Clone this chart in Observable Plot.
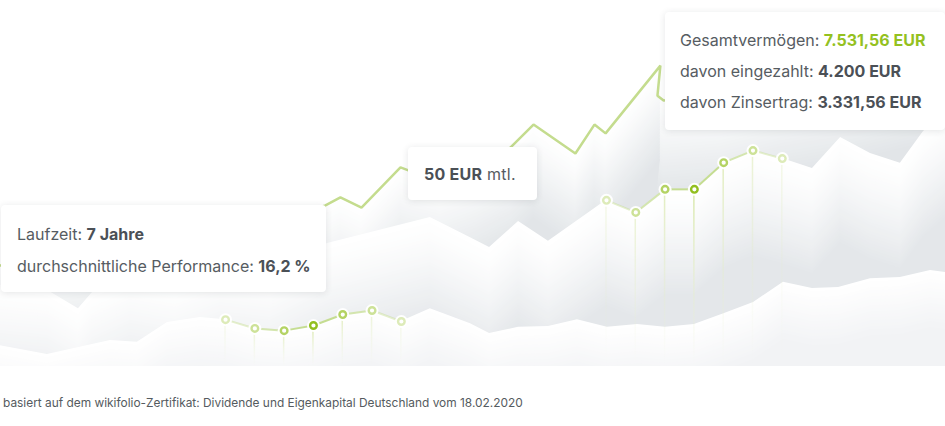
<!DOCTYPE html>
<html>
<head>
<meta charset="utf-8">
<script src="https://cdn.jsdelivr.net/npm/d3@7"></script>
<script src="https://cdn.jsdelivr.net/npm/@observablehq/plot@0.6"></script>
<style>
  html, body { margin: 0; padding: 0; background: #fff; }
  body { font-family: Inter, "Noto Sans", sans-serif; color: #565c62; }
  #wrap { position: relative; width: 945px; }
  #chart svg { display: block; overflow: visible; }
  .box { position: absolute; background: #fff; border-radius: 4px;
         box-shadow: 0 1px 7px rgba(40, 50, 60, 0.12); box-sizing: border-box;
         font-size: 16px; line-height: 31px; white-space: nowrap; }
  .box b { font-weight: 700; color: #4b5056; }
  .box b.green { color: #94c11f; }
  #caption { font-size: 11.9px; line-height: 16px; color: #555b60; margin: 15px 0 0 3px; }
</style>
</head>
<body>
<div id="wrap">
  <div id="chart"></div>
  <div class="box" id="box1" style="left:1px; top:205px; width:325px; height:87px; padding:13px 0 0 16px; line-height:32px;">
    <div>Laufzeit: <b>7 Jahre</b></div>
    <div>durchschnittliche Performance: <b>16,2 %</b></div>
  </div>
  <div class="box" id="box2" style="left:408px; top:147px; width:129px; height:53px; padding:11px 0 0 16px; line-height:32px; letter-spacing:0.25px;">
    <div><b>50 EUR</b> mtl.</div>
  </div>
  <div class="box" id="box3" style="left:665px; top:12px; width:280px; height:118px; padding:13px 0 0 15px;">
    <div>Gesamtvermögen: <b class="green">7.531,56 EUR</b></div>
    <div>davon eingezahlt: <b>4.200 EUR</b></div>
    <div>davon Zinsertrag: <b>3.331,56 EUR</b></div>
  </div>
  <div id="caption">basiert auf dem wikifolio-Zertifikat: Dividende und Eigenkapital Deutschland vom 18.02.2020</div>
</div>
<script>
// ---- data (x in steps, y as share of chart height) ----
const backT  = [-0.68, 2.73, 6.14, 9.22, 10.41, 10.92, 11.64, 12.97, 13.24, 14.33, 15.53, 16.72, 17.51, 18.94, 19.59, 19.97, 21.84, 21.74, 21.95, 23.89, 25.94, 27.99, 30.03, 31.57];
const backV  = [27.6, 33.1, 36.6, 41.3, 44.0, 46.2, 43.4, 54.4, 53.6, 51.4, 54.9, 59.8, 66.1, 58.2, 66.1, 63.7, 82.2, 74.0, 72.7, 74.0, 78.1, 80.9, 85.0, 87.7];

const midLeftT  = [-0.68, 0.92, 1.98, 2.46, 3.75, 5.29, 6.83, 8.53, 10.48, 13.99, 15.36, 16.01, 17.0, 18.02];
const midLeftV  = [22.1, 20.8, 15.8, 20.2, 24.9, 22.7, 27.3, 25.7, 33.6, 40.7, 35.2, 32.5, 39.6, 34.2];
const midRightT = [27.03, 27.99, 29.01, 30.03, 30.82, 31.57];
const midRightV = [54.1, 62.6, 58.2, 55.5, 64.2, 69.4];

const frontLeftT  = [-0.68, 0.92, 3.07, 3.99, 5.02, 6.14];
const frontLeftV  = [5.7, 3.3, 7.1, 6.6, 12.0, 13.4];
const frontRightT = [13.99, 15.36, 16.01, 17.0, 18.02, 19.01, 20.03, 21.06, 22.01, 23.0, 24.03, 25.02, 26.04, 27.03, 27.92, 29.01, 30.03, 31.06, 31.57];
const frontRightV = [15.8, 11.7, 9.0, 10.7, 10.9, 12.8, 10.7, 11.5, 10.7, 11.5, 14.5, 17.5, 23.0, 21.3, 21.6, 24.0, 24.3, 26.2, 25.7];

const dotsLeftT  = [7, 8, 9, 10, 11, 12, 13];
const dotsLeftV  = [12.8, 10.4, 9.8, 11.2, 14.2, 15.3, 12.3];
const dotsRightT = [20, 21, 22, 23, 24, 25, 26];
const dotsRightV = [45.4, 42.1, 48.4, 48.4, 55.7, 59.0, 56.8];

// ---- tables built from the arrays ----
const pts = (T, V) => T.map((t, i) => ({t, v: V[i]}));
const back  = pts(backT, backV);
const dotsL = pts(dotsLeftT, dotsLeftV).map((d, i) => ({...d, o: 1 - 0.235 * Math.abs(i - 3)}));
const dotsR = pts(dotsRightT, dotsRightV).map((d, i) => ({...d, o: 1 - 0.235 * Math.abs(i - 3)}));
const mid   = [...pts(midLeftT, midLeftV), ...dotsR.map(({t, v}) => ({t, v})), ...pts(midRightT, midRightV)];
const front = [...pts(frontLeftT, frontLeftV), ...dotsL.map(({t, v}) => ({t, v})), ...pts(frontRightT, frontRightV)];
const dots  = [...dotsL, ...dotsR];
const links = [dotsL, dotsR].flatMap(g => g.slice(1).map((d, i) => ({a: g[i], b: d, o: (g[i].o + d.o) / 2})));

// soft shading that follows the top edge of each layer: opaque copies, each a shade darker and shifted down
function shade(data, dark, n, step, ease) {
  const ip = d3.interpolateRgb("#ffffff", dark);
  return d3.range(0, n).map(k => Plot.areaY(data, {x: "t", y: "v", fill: ip(Math.pow(k / (n - 1), ease)), dy: k * step, clip: true}));
}

const defs = () => {
  const d = d3.create("svg:defs");
  const g = d.append("linearGradient").attr("id", "stemGrad").attr("x1", 0).attr("y1", 0).attr("x2", 0).attr("y2", 1);
  g.append("stop").attr("offset", "0").attr("stop-color", "#d8e7ab").attr("stop-opacity", 1);
  g.append("stop").attr("offset", "1").attr("stop-color", "#eef4dc").attr("stop-opacity", 0);
  return d.node();
};

const plot = Plot.plot({
  width: 945,
  height: 380,
  marginTop: 0, marginBottom: 14, marginLeft: 0, marginRight: 0,
  x: {domain: [-0.68, 31.57], axis: null},
  y: {domain: [0, 100], axis: null},
  style: {background: "transparent", overflow: "visible"},
  marks: [
    defs,
    ...shade(back, "#e2e5e8", 32, 3, 1.15),
    Plot.line(back, {x: "t", y: "v", stroke: "#c4dc8e", strokeWidth: 2.5, strokeLinejoin: "miter"}),
    ...shade(mid, "#e4e7ea", 36, 3, 1.3),
    ...shade(front, "#f2f3f5", 20, 3, 1),
    Plot.rect(dots, {x1: d => d.t - 0.026, x2: d => d.t + 0.026, y1: 0, y2: "v", fill: "url(#stemGrad)", fillOpacity: "o"}),
    Plot.link(links, {x1: d => d.a.t, y1: d => d.a.v, x2: d => d.b.t, y2: d => d.b.v, stroke: "#bdd883", strokeWidth: 2, strokeOpacity: "o"}),
    Plot.dot(dots, {x: "t", y: "v", r: 6.5, fill: "#fff", fillOpacity: 0.95}),
    Plot.dot(dots, {x: "t", y: "v", r: 3.3, fill: "#fff", stroke: "#92bf1f", strokeWidth: 2.4, strokeOpacity: d => 0.25 + 0.75 * d.o * d.o})
  ]
});
document.getElementById("chart").appendChild(plot);
</script>
</body>
</html>
